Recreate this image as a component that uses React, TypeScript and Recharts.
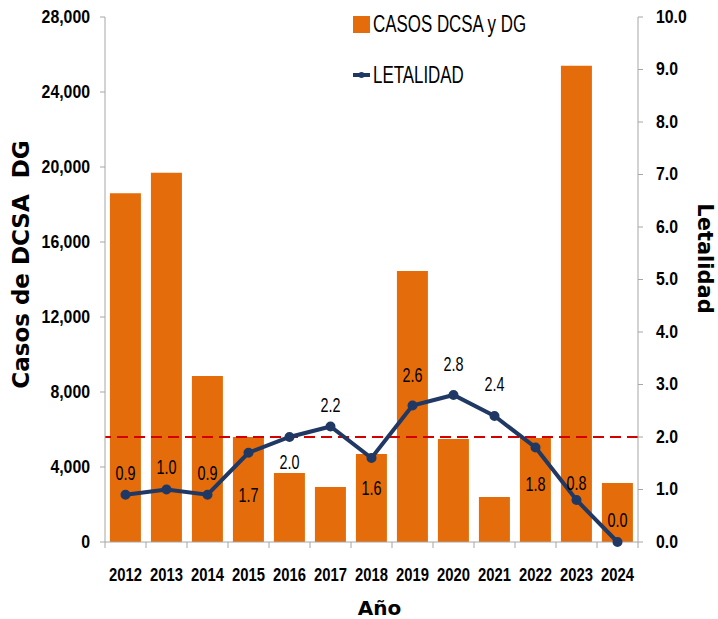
import { ComposedChart, Bar, Line, XAxis, YAxis, ReferenceLine, Legend, LabelList } from 'recharts';

const years = ['2012', '2013', '2014', '2015', '2016', '2017', '2018', '2019', '2020', '2021', '2022', '2023', '2024'];
const casos = [18600, 19700, 8850, 5600, 3680, 2930, 4700, 14450, 5500, 2400, 5550, 25400, 3150];
const letalidad = [0.9, 1.0, 0.9, 1.7, 2.0, 2.2, 1.6, 2.6, 2.8, 2.4, 1.8, 0.8, 0.0];
const casosTicks = [0, 4000, 8000, 12000, 16000, 20000, 24000, 28000];
const letalidadTicks = [0, 1, 2, 3, 4, 5, 6, 7, 8, 9, 10];
const umbral = 2.0;

// vertical shift of each line label relative to its point
const labelDy = [-22, -22, -22, 42, 25, -21, 30, -30, -31, -32, 37, -17, -22];

const data = years.map((y, i) => ({ year: y, casos: casos[i], letalidad: letalidad[i] }));

const SANS = "'Liberation Sans', Arial, sans-serif";
const TITLE = "'DejaVu Sans', sans-serif";
const ORANGE = '#E46C0A';
const NAVY = '#1F3864';
const AXIS = '#A6A6A6';

const W = 718;
const H = 619;
const LEFT_W = 105;
const RIGHT_W = 80;
const BAND = (W - LEFT_W - RIGHT_W) / years.length;

const YearTick = (props: any) => {
  const { x, y, payload, index } = props;
  return (
    <g>
      <line x1={x - BAND / 2} x2={x - BAND / 2} y1={y} y2={y + 6} stroke={AXIS} />
      {index === years.length - 1 && (
        <line x1={x + BAND / 2} x2={x + BAND / 2} y1={y} y2={y + 6} stroke={AXIS} />
      )}
      <text
        transform={`translate(${x},${y + 39}) scale(0.78,1)`}
        textAnchor="middle"
        fontFamily={SANS}
        fontWeight="bold"
        fontSize={19}
        fill="#000"
      >
        {payload.value}
      </text>
    </g>
  );
};

const LeftTick = (props: any) => {
  const { x, y, payload } = props;
  return (
    <text
      transform={`translate(${x},${y}) scale(0.88,1)`}
      textAnchor="end"
      dominantBaseline="central"
      fontFamily={SANS}
      fontWeight="bold"
      fontSize={18}
      fill="#000"
    >
      {Number(payload.value).toLocaleString('en-US')}
    </text>
  );
};

const RightTick = (props: any) => {
  const { x, y, payload } = props;
  return (
    <text
      transform={`translate(${x},${y}) scale(0.88,1)`}
      textAnchor="start"
      dominantBaseline="central"
      fontFamily={SANS}
      fontWeight="bold"
      fontSize={18}
      fill="#000"
    >
      {Number(payload.value).toFixed(1)}
    </text>
  );
};

const PointLabel = (props: any) => {
  const { x, y, value, index } = props;
  return (
    <text
      transform={`translate(${x},${y + labelDy[index]}) scale(0.72,1)`}
      textAnchor="middle"
      dominantBaseline="central"
      fontFamily={SANS}
      fontSize={20}
      fill="#000"
    >
      {Number(value).toFixed(1)}
    </text>
  );
};

const leftTitle = (props: any) => {
  const vb = props.viewBox;
  const cx = vb.x + 21;
  const cy = vb.y + vb.height / 2 - 15;
  return (
    <text x={cx} y={cy} transform={`rotate(-90, ${cx}, ${cy})`} textAnchor="middle" dominantBaseline="central" fontFamily={TITLE} fontWeight="bold" fontSize={23} fill="#000" style={{ whiteSpace: 'pre' }}>
      {'Casos de DCSA  DG'}
    </text>
  );
};

const rightTitle = (props: any) => {
  const vb = props.viewBox;
  const cx = vb.x + 67;
  const cy = vb.y + vb.height / 2 - 21;
  return (
    <text x={cx} y={cy} transform={`rotate(90, ${cx}, ${cy})`} textAnchor="middle" dominantBaseline="central" fontFamily={TITLE} fontWeight="bold" fontSize={21} fill="#000">
      Letalidad
    </text>
  );
};

const bottomTitle = (props: any) => {
  const vb = props.viewBox;
  return (
    <text x={vb.x + vb.width / 2 + 8} y={vb.y + 73} textAnchor="middle" fontFamily={TITLE} fontWeight="bold" fontSize={20} fill="#000">
      Año
    </text>
  );
};

const legendText: React.CSSProperties = {
  display: 'inline-block',
  transform: 'scaleX(0.735)',
  transformOrigin: 'left center',
  whiteSpace: 'nowrap',
};

const renderLegend = () => (
  <div style={{ fontFamily: SANS, fontSize: 23, color: '#000', lineHeight: 1 }}>
    <div style={{ display: 'flex', alignItems: 'center', height: 20 }}>
      <span style={{ width: 17, height: 17, background: ORANGE, display: 'inline-block', marginRight: 3, flex: 'none' }} />
      <span style={legendText}>CASOS DCSA y DG</span>
    </div>
    <div style={{ display: 'flex', alignItems: 'center', height: 20, marginTop: 31 }}>
      <svg width={17} height={8} style={{ marginRight: 3, flex: 'none' }}>
        <line x1={0} x2={17} y1={4} y2={4} stroke={NAVY} strokeWidth={4} />
        <circle cx={8.5} cy={4} r={3} fill={NAVY} />
      </svg>
      <span style={legendText}>LETALIDAD</span>
    </div>
  </div>
);

export default function App() {
  return (
    <div style={{ position: 'fixed', left: 0, top: 0, width: W, height: H, overflow: 'hidden', background: '#fff' }}>
      <ComposedChart width={W} height={H} data={data} margin={{ top: 17, right: 0, bottom: 0, left: 0 }} barCategoryGap="12%">
        <XAxis
          dataKey="year"
          xAxisId="x"
          height={77}
          stroke={AXIS}
          tickLine={false}
          tickSize={0}
          tickMargin={0}
          tick={<YearTick />}
          interval={0}
          label={bottomTitle}
        />
        <YAxis
          yAxisId="left"
          orientation="left"
          width={LEFT_W}
          domain={[0, 28000]}
          ticks={casosTicks}
          interval={0}
          stroke={AXIS}
          tickSize={5}
          tickMargin={10}
          tick={<LeftTick />}
          label={leftTitle}
        />
        <YAxis
          yAxisId="right"
          orientation="right"
          width={RIGHT_W}
          domain={[0, 10]}
          ticks={letalidadTicks}
          interval={0}
          stroke={AXIS}
          tickSize={5}
          tickMargin={13}
          tick={<RightTick />}
          label={rightTitle}
        />
        <Legend
          content={renderLegend}
          layout="horizontal"
          verticalAlign="middle"
          align="center"
          wrapperStyle={{ position: 'absolute', top: 14, left: 353, width: 260 }}
        />
        <Bar dataKey="casos" name="CASOS DCSA y DG" xAxisId="x" yAxisId="left" fill={ORANGE} isAnimationActive={false} />
        <ReferenceLine xAxisId="x" yAxisId="right" y={umbral} stroke="#D40000" strokeWidth={2} strokeDasharray="11 6" />
        <Line
          dataKey="letalidad"
          name="LETALIDAD"
          xAxisId="x"
          yAxisId="right"
          type="linear"
          stroke={NAVY}
          strokeWidth={4}
          dot={{ r: 3, fill: NAVY, stroke: NAVY }}
          isAnimationActive={false}
        >
          <LabelList dataKey="letalidad" content={<PointLabel />} />
        </Line>
      </ComposedChart>
    </div>
  );
}
